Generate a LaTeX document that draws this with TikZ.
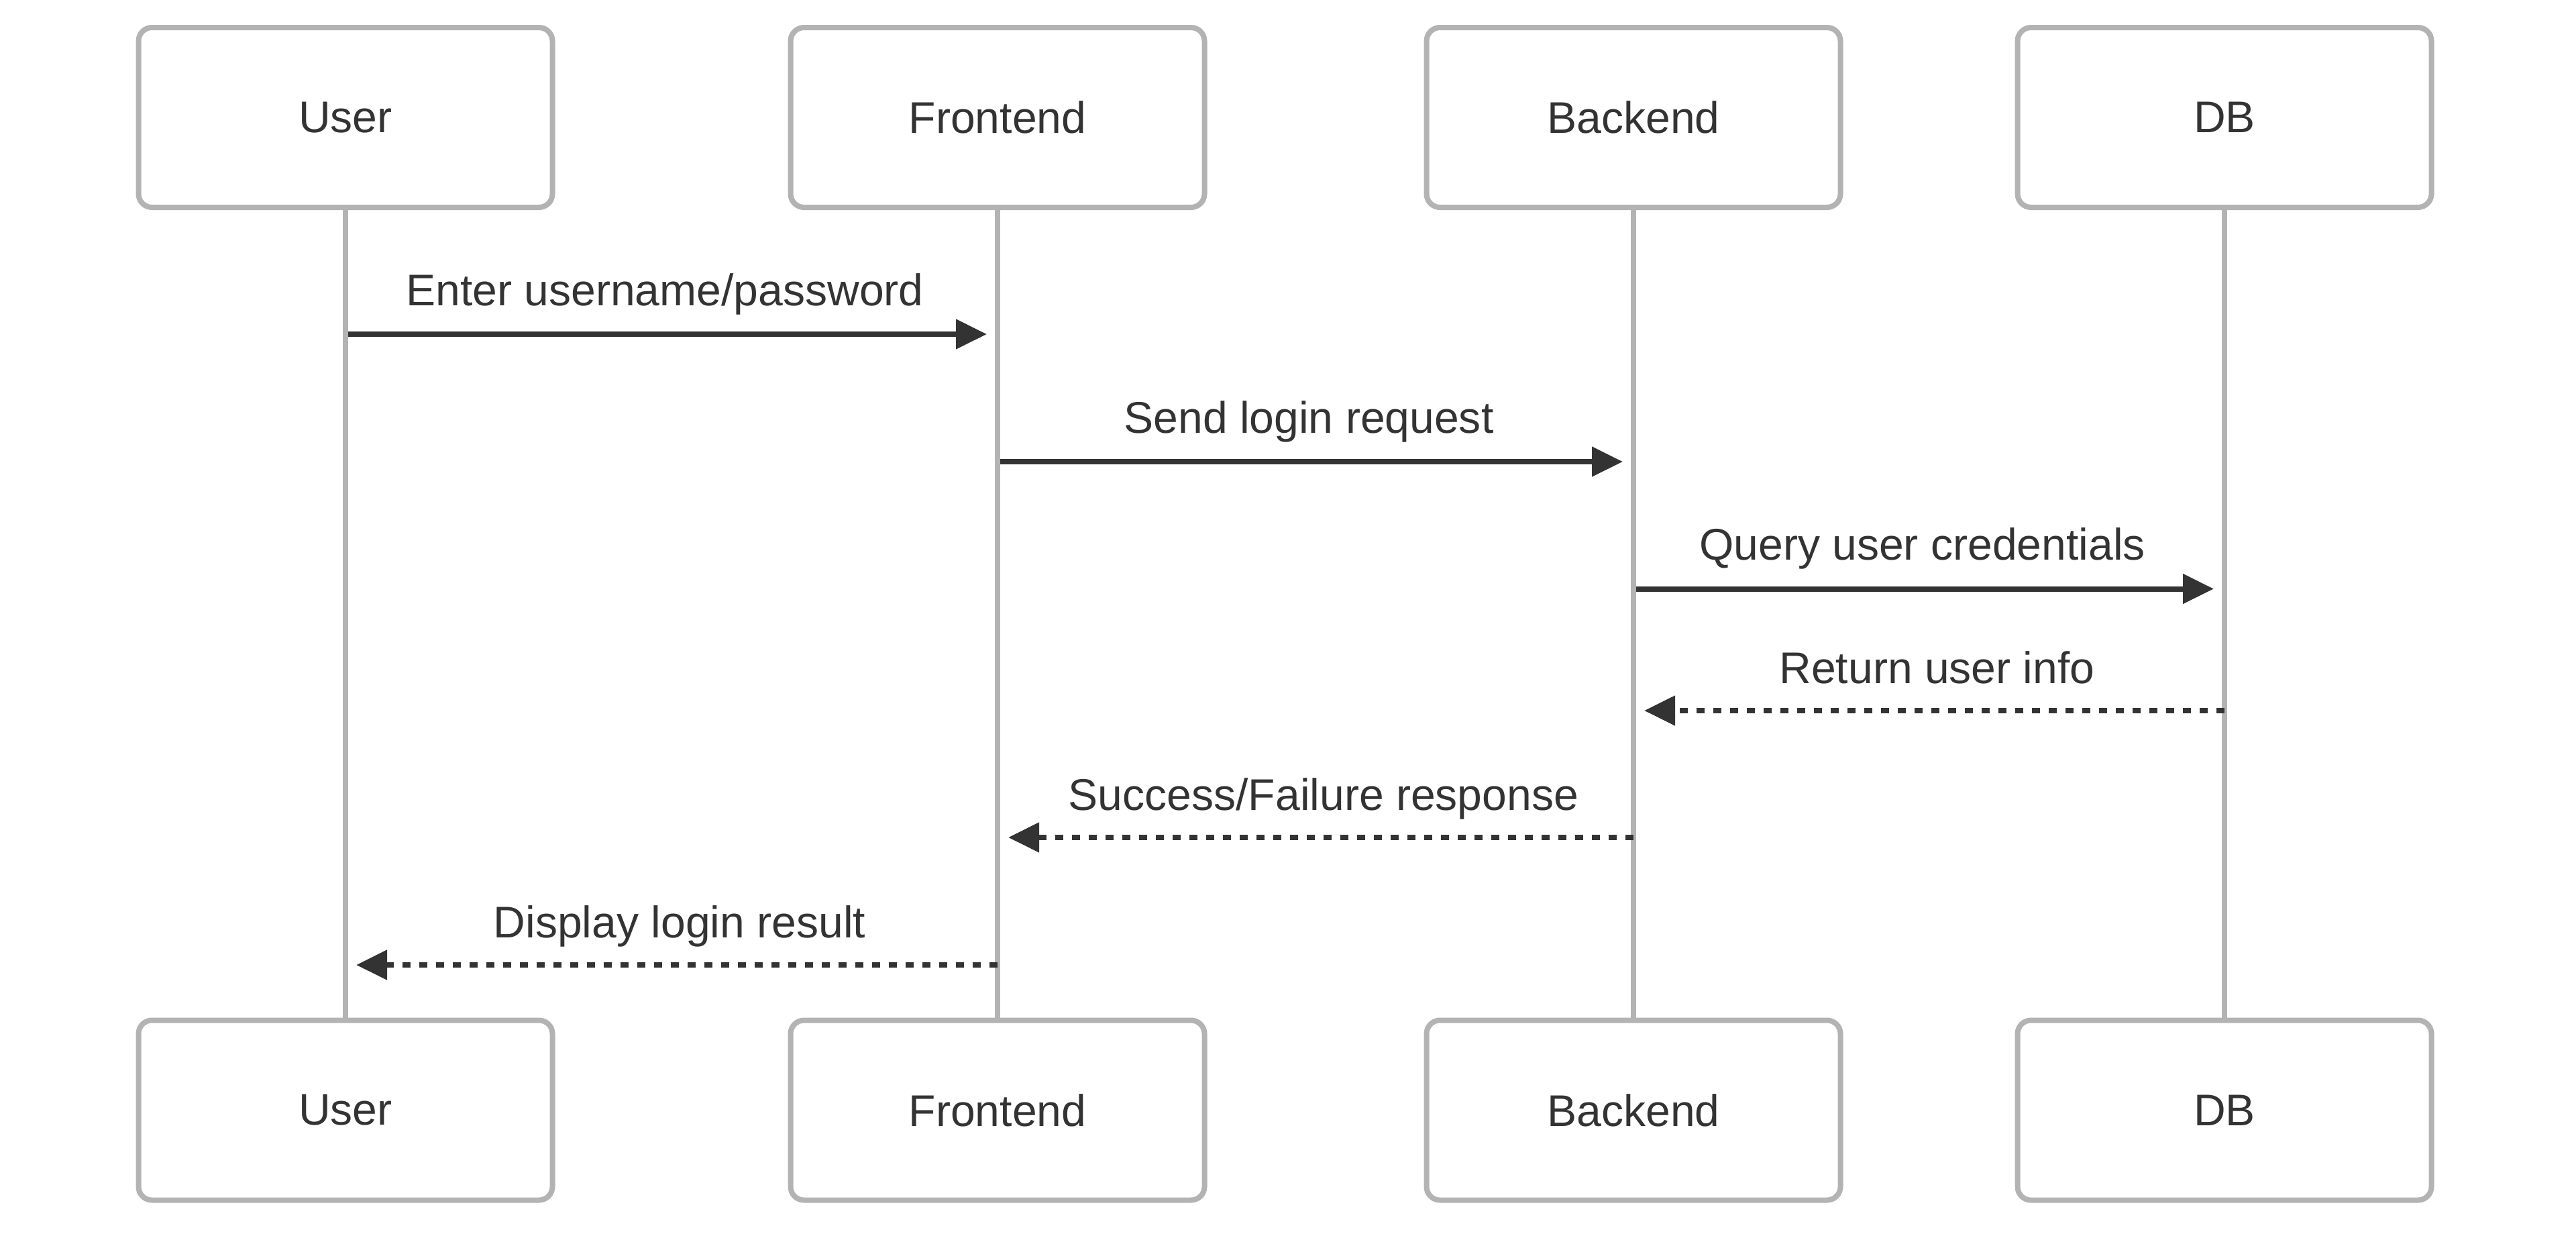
\documentclass[tikz,border=0pt]{standalone}
\usepackage{fontspec}
\setmainfont{Liberation Sans}
\usetikzlibrary{arrows.meta}
\definecolor{ink}{HTML}{333333}
\definecolor{rim}{HTML}{B3B3B3}

\begin{document}
\begin{tikzpicture}
	\tikzstyle{every node}=[align=center, inner sep=1pt, text=ink, font=\fontsize{18.8}{22}\selectfont]
	\tikzstyle{actor}=[draw=rim, line width=0.08cm, fill=white, rounded corners=0.2cm, minimum width=6.17cm, minimum height=2.68cm]
	\tikzstyle{life}=[draw=rim, line width=0.08cm]
	\tikzstyle{msg}=[draw=ink, line width=0.08cm, -{Triangle[length=0.46cm, width=0.43cm]}, shorten >=0.16cm]
	\tikzstyle{reply}=[msg, dash pattern=on 0.12cm off 0.13cm]
	\tikzstyle{lbl}=[midway, anchor=base, yshift=0.43cm, xshift=-0.1cm]
	\tikzstyle{rlbl}=[midway, anchor=base, yshift=0.41cm, xshift=0.12cm]
	\useasboundingbox (0, 0) rectangle (38.4, -18.38);

	\node[actor] (U) at (5.15, -1.75) {User};
	\node[actor] (F) at (14.87, -1.75) {Frontend};
	\node[actor] (B) at (24.35, -1.75) {Backend};
	\node[actor] (D) at (33.16, -1.75) {DB};

	\node[actor] (U2) at (5.15, -16.545) {User};
	\node[actor] (F2) at (14.87, -16.545) {Frontend};
	\node[actor] (B2) at (24.35, -16.545) {Backend};
	\node[actor] (D2) at (33.16, -16.545) {DB};

	\draw[life] (U) -- (U2);
	\draw[life] (F) -- (F2);
	\draw[life] (B) -- (B2);
	\draw[life] (D) -- (D2);

	\coordinate (r1) at (0, -4.98);
	\coordinate (r2) at (0, -6.88);
	\coordinate (r3) at (0, -8.775);
	\coordinate (r4) at (0, -10.59);
	\coordinate (r5) at (0, -12.48);
	\coordinate (r6) at (0, -14.38);

	\draw[msg, shorten <=0.04cm] (U |- r1) -- node[lbl] (m1) {Enter username/password} (F |- r1);
	\draw[msg, shorten <=0.04cm] (F |- r2) -- node[lbl] (m2) {Send login request} (B |- r2);
	\draw[msg, shorten <=0.04cm] (B |- r3) -- node[lbl] (m3) {Query user credentials} (D |- r3);
	\draw[reply] (D |- r4) -- node[rlbl] (m4) {Return user info} (B |- r4);
	\draw[reply] (B |- r5) -- node[rlbl] (m5) {Success/Failure response} (F |- r5);
	\draw[reply] (F |- r6) -- node[rlbl] (m6) {Display login result} (U |- r6);
\end{tikzpicture}
\end{document}
